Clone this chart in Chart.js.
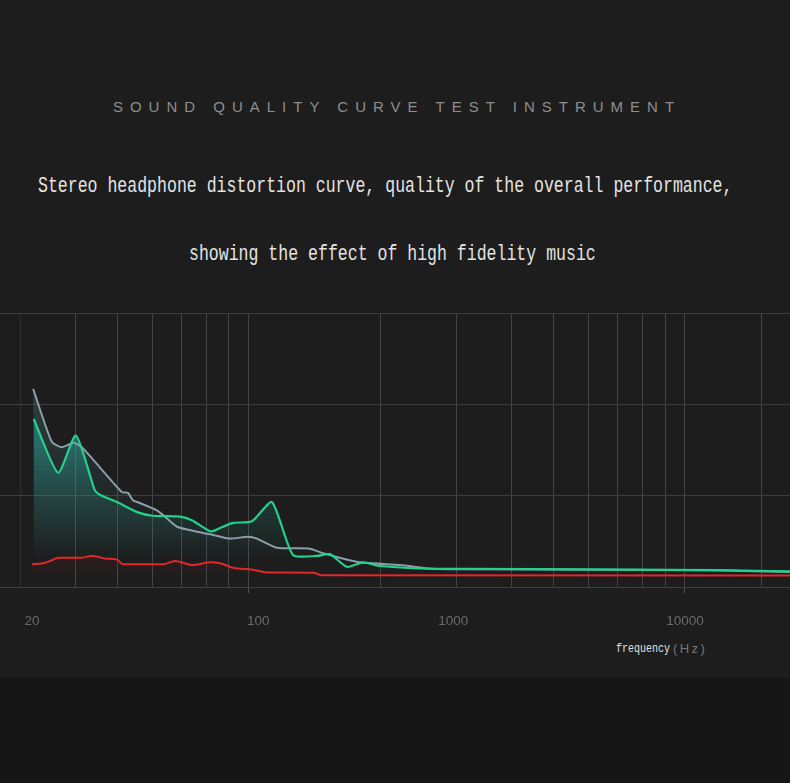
<!DOCTYPE html>
<html>
<head>
<meta charset="utf-8">
<script src="https://cdn.jsdelivr.net/npm/chart.js@4"></script>
<style>
html, body { margin: 0; padding: 0; }
body { width: 790px; height: 783px; background: #161616; position: relative; overflow: hidden; }
#panel { position: absolute; left: 0; top: 0; width: 790px; height: 678px; background: #1d1d1d; }
.t { position: absolute; white-space: nowrap; }
#head { top: 98px; left: 2px; width: 790px; text-align: center; font: 15px "Liberation Sans", sans-serif;
        line-height: 18px; letter-spacing: 7px; color: #8e8e8e; }
.cap { font-family: "Liberation Mono", monospace; font-size: 16.55px; line-height: 20px; color: #e4e4e4;
       transform: scaleY(1.28); transform-origin: left center; }
#l1 { left: 38px; top: 177px; }
#l2 { left: 189px; top: 245px; }
#freq { left: 616px; top: 644px; font: 10px "Liberation Mono", monospace; line-height: 12px; color: #e0e0e0;
        transform: scaleY(1.2); transform-origin: left center; }
#hz { left: 673px; top: 641px; font: 13px "Liberation Sans", sans-serif; line-height: 16px; letter-spacing: 2.4px; color: #777; }
#wrap { position: absolute; left: 0; top: 300px; width: 790px; height: 340px; }
</style>
</head>
<body>
<div id="panel"></div>
<div class="t" id="head">SOUND QUALITY CURVE TEST INSTRUMENT</div>
<div class="t cap" id="l1">Stereo headphone distortion curve, quality of the overall performance,</div>
<div class="t cap" id="l2">showing the effect of high fidelity music</div>
<div id="wrap"><canvas id="myChart" width="790" height="340"></canvas></div>
<div class="t" id="freq">frequency</div>
<div class="t" id="hz">(Hz)</div>
<script>
// grid of the log axis and the printed labels (labels sit where the picture puts them)
var gridFreqs = [30, 40, 50, 60, 70, 80, 90, 100, 200, 300, 400, 500, 600, 700, 800, 900, 1000, 1500];
var tickLabels = ['20', '100', '1000', '10000'];
var tickLabelAt = [31.8, 105, 294, 1000];
var yTicks = [0, 10, 20, 30];

// gray curve
var grayFreq = [32, 35.3, 37.2, 39.7, 41.6, 51.1, 52.8, 54.2, 56.2, 61.5, 63.5, 68.4, 77.2, 82.7, 90.4, 99.5, 104.3, 115.9, 138, 147.8, 179.7, 222, 264, 305, 710, 1203, 1741];
var grayVal = [21.7, 15.9, 15.3, 15.8, 15.2, 10.4, 10.3, 9.5, 9.2, 8.4, 7.9, 6.6, 6.0, 5.7, 5.3, 5.5, 5.3, 4.3, 4.2, 3.7, 2.7, 2.4, 2.0, 1.95, 1.9, 1.8, 1.65];

// green curve
var greenFreq = [32.1, 36.5, 40.1, 44.3, 45.5, 49.8, 55.4, 60.2, 69.5, 74, 81.4, 83.6, 91.4, 101.6, 112.9, 126.2, 143.2, 153.4, 167.8, 182.6, 199.8, 256, 305, 710, 1203, 1741];
var greenVal = [18.4, 12.5, 16.6, 10.6, 10.1, 9.3, 8.2, 7.8, 7.7, 7.3, 6.1, 6.2, 7.0, 7.2, 9.3, 3.5, 3.4, 3.6, 2.2, 2.7, 2.3, 2.0, 2.0, 1.9, 1.85, 1.7];

// red curve
var redFreq = [31.8, 33.7, 35, 36.5, 41, 43.6, 47.2, 49.8, 51.4, 63.5, 67.7, 74.4, 81.4, 85.8, 91.9, 102.1, 110, 140.3, 147, 1741];
var redVal = [2.5, 2.6, 2.85, 3.2, 3.2, 3.4, 3.1, 3.0, 2.5, 2.5, 2.85, 2.4, 2.7, 2.6, 2.1, 1.9, 1.6, 1.55, 1.3, 1.25];

var xMin = 26.86, xMax = 1741;

function pts(f, v) {
  return f.map(function (x, i) { return { x: x, y: v[i] }; });
}

function grad(stops) {
  return function (c) {
    var a = c.chart.chartArea;
    if (!a) return 'transparent';
    var g = c.chart.ctx.createLinearGradient(0, a.top, 0, a.bottom);
    stops.forEach(function (s) { g.addColorStop(s[0], s[1]); });
    return g;
  };
}

var ctx = document.getElementById('myChart');
var myChart = new Chart(ctx, {
  type: 'line',
  data: {
    datasets: [{
      label: 'green',
      data: pts(greenFreq, greenVal),
      borderColor: '#22d28c',
      borderWidth: 2.2,
      tension: 0.2,
      fill: 'origin',
      backgroundColor: grad([[0, 'rgba(40,185,170,0.6)'], [0.38, 'rgba(40,185,170,0.52)'], [0.65, 'rgba(40,185,170,0.22)'], [0.9, 'rgba(40,185,170,0)'], [1, 'rgba(40,185,170,0)']])
    }, {
      label: 'gray',
      data: pts(grayFreq, grayVal),
      borderColor: '#8a9fa9',
      borderWidth: 2,
      tension: 0.2,
      fill: 'origin',
      backgroundColor: grad([[0, 'rgba(90,135,145,0.35)'], [0.3, 'rgba(90,135,145,0.3)'], [0.65, 'rgba(90,135,145,0.1)'], [0.9, 'rgba(90,135,145,0)'], [1, 'rgba(90,135,145,0)']])
    }, {
      label: 'red',
      data: pts(redFreq, redVal),
      borderColor: '#e0282b',
      borderWidth: 2,
      cubicInterpolationMode: 'monotone',
      fill: 'origin',
      backgroundColor: grad([[0, 'rgba(220,40,40,0)'], [0.86, 'rgba(220,40,40,0.12)'], [0.97, 'rgba(220,40,40,0)'], [1, 'rgba(220,40,40,0)']])
    }]
  },
  options: {
    responsive: false,
    animation: false,
    layout: { padding: { top: 13, left: 0, right: 0, bottom: 0 } },
    elements: {
      point: { radius: 0 }
    },
    plugins: {
      legend: { display: false },
      tooltip: { enabled: false },
      filler: { drawTime: 'beforeDatasetsDraw' }
    },
    scales: {
      x: {
        type: 'logarithmic',
        position: 'bottom',
        min: xMin,
        max: xMax,
        afterBuildTicks: function (s) { s.ticks = gridFreqs.map(function (v) { return { value: v }; }); },
        afterFit: function (s) { s.height = 6; },
        ticks: { display: false },
        border: { color: '#3e3e3e' },
        grid: {
          color: function (c) { return c.tick && c.tick.value === 30 ? '#2e2e2e' : '#444'; },
          drawTicks: true,
          tickLength: 6,
          tickColor: function (c) { return c.tick && (c.tick.value === 100 || c.tick.value === 1000) ? '#555' : 'transparent'; }
        }
      },
      xl: {
        type: 'logarithmic',
        position: 'bottom',
        min: xMin,
        max: xMax,
        afterBuildTicks: function (s) { s.ticks = tickLabelAt.map(function (v) { return { value: v }; }); },
        afterFit: function (s) { s.height = 47; },
        border: { display: false },
        grid: { display: false, drawTicks: false },
        ticks: {
          autoSkip: false,
          maxRotation: 0,
          padding: 20,
          color: '#6a6a6a',
          font: { family: 'Liberation Sans', size: 13.5 },
          callback: function (v, i) { return tickLabels[i]; }
        }
      },
      y: {
        min: 0,
        max: 30,
        afterBuildTicks: function (s) { s.ticks = yTicks.map(function (v) { return { value: v }; }); },
        afterFit: function (s) { s.width = 0; },
        ticks: { display: false },
        border: { display: false },
        grid: { color: '#3d3d3d', drawTicks: false }
      }
    }
  }
});
</script>
</body>
</html>
